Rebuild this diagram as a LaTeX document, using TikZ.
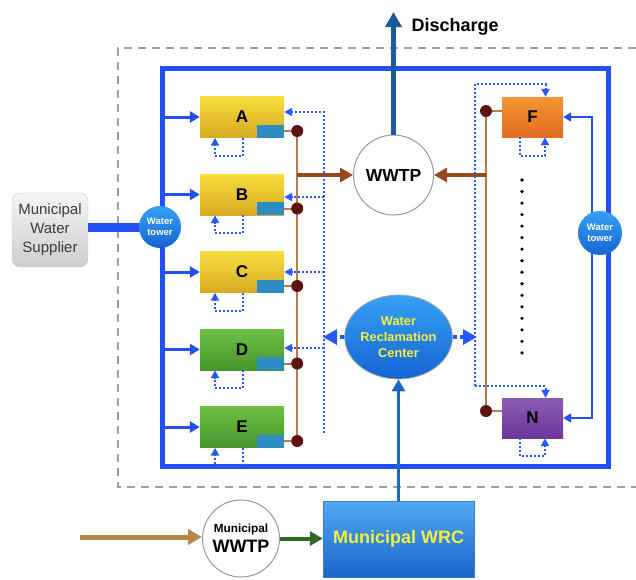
\documentclass[tikz,border=0pt]{standalone}
\usepackage{fontspec}
\setmainfont{Liberation Sans}
\usetikzlibrary{arrows.meta,shapes.geometric,calc}
\definecolor{bblue}{RGB}{35,80,245}
\definecolor{dblue}{RGB}{40,90,250}
\definecolor{tanc}{RGB}{184,124,70}
\definecolor{brownarr}{RGB}{150,72,28}
\definecolor{dotc}{RGB}{95,18,18}
\definecolor{discol}{RGB}{28,90,156}
\definecolor{wrcline}{RGB}{22,105,200}
\definecolor{yel}{RGB}{245,240,60}
\definecolor{sqc}{RGB}{45,140,195}
\definecolor{yt}{RGB}{248,222,60}
\definecolor{yb}{RGB}{215,170,35}
\definecolor{gt}{RGB}{110,190,70}
\definecolor{gb}{RGB}{70,150,45}
\definecolor{ot}{RGB}{242,150,50}
\definecolor{ob}{RGB}{225,108,35}
\definecolor{pt}{RGB}{140,92,180}
\definecolor{pb}{RGB}{108,55,155}
\definecolor{twt}{RGB}{55,160,245}
\definecolor{twb}{RGB}{20,100,210}
\definecolor{suppt}{RGB}{245,245,245}
\definecolor{suppb}{RGB}{205,205,205}
\definecolor{supptext}{RGB}{60,60,60}
\definecolor{tanarr}{RGB}{180,135,75}
\definecolor{grnarr}{RGB}{45,105,30}
\definecolor{wrcdraw}{RGB}{60,125,210}
\definecolor{wrct}{RGB}{82,170,242}
\definecolor{wrcb}{RGB}{25,100,205}
\begin{document}
\begin{tikzpicture}[x=1pt,y=-1pt,
  unitbox/.style={minimum width=84pt,minimum height=41pt,inner sep=0pt,font=\fontsize{17}{20}\selectfont\bfseries},
  ybox/.style={unitbox,top color=yt,bottom color=yb},
  gbox/.style={unitbox,top color=gt,bottom color=gb},
  sqbox/.style={fill=sqc,minimum width=27pt,minimum height=13pt,inner sep=0pt,anchor=south east},
  dotn/.style={circle,fill=dotc,minimum size=12pt,inner sep=0pt},
  feed/.style={bblue,line width=3pt,-{Triangle[length=10pt,width=11pt]}},
  thinfeed/.style={bblue,line width=2.5pt,-{Triangle[length=8pt,width=9pt]}},
  dotarr/.style={dblue,line width=2pt,dash pattern=on 2pt off 2pt,-{Triangle[length=8pt,width=8pt]}},
  bigdot/.style={dblue,line width=4pt,dash pattern=on 4pt off 3pt,-{Triangle[length=14pt,width=15pt]}},
  tanline/.style={tanc,line width=2pt},
  brarr/.style={brownarr,line width=4pt,-{Triangle[length=13pt,width=14pt]}},
  tower/.style={circle,minimum size=42pt,inner sep=0pt,top color=twt,bottom color=twb,text=white,font=\fontsize{9.5}{11}\selectfont\bfseries,align=center},
  plant/.style={circle,draw=gray!80,line width=1pt,fill=white,inner sep=0pt,align=center}
]
\useasboundingbox (0,0) rectangle (636,579);
% frames
\draw[gray!75,line width=1.5pt,dash pattern=on 8pt off 6pt] (636,48) -- (118,48) -- (118,487) -- (636,487);
\draw[bblue,line width=5pt] (162,68) rectangle (608,466);

% supplier
\node[draw=suppb,rounded corners=8pt,top color=suppt,bottom color=suppb,minimum width=76pt,minimum height=74pt,inner sep=0pt,align=center,text=supptext,font=\fontsize{15}{19}\selectfont] (supp) at (50,230) {Municipal\\Water\\Supplier};
\coordinate (twLc) at (160,227);
\coordinate (twRc) at (600,233);
\draw[bblue,line width=9pt] (supp.east |- twLc) -- (twLc);

% units A-E
\node[ybox] (A) at (242,117) {A};
\node[ybox] (B) at (242,194.5) {B};
\node[ybox] (C) at (242,272) {C};
\node[gbox] (D) at (242,349.5) {D};
\node[gbox] (E) at (242,427) {E};
\foreach \u in {A,B,C,D,E}{
  \node[sqbox] (sq\u) at (\u.south east) {};
  \coordinate (c\u) at ($(sq\u.east)+(13,0)$);
}
\coordinate (ol) at (162,0);
\foreach \u in {A,B,C,D,E}{
  \draw[feed] (\u.west -| ol) -- (\u.west);
  \draw[dotarr] ($(\u.south)+(1,0)$) -- ++(0,18) -- ++(-28,0) -- ++(0,-18);
  \draw[tanline] (sq\u.east) -- (c\u);
}
\draw[tanline] (cA) -- (cE);
\foreach \u in {A,B,C,D,E}{\node[dotn] (d\u) at (c\u) {};}

% WWTP
\node[plant,minimum size=80pt,font=\fontsize{17.5}{20}\selectfont\bfseries] (wwtp) at (393.5,175) {WWTP};
\coordinate (jL) at (297,175);
\coordinate (jR) at (486,175);
\draw[brarr] (jL) -- (wwtp.west);
\coordinate (dis) at (393.5,12);
\draw[discol,line width=5pt,-{Triangle[length=15pt,width=16pt]}] (wwtp.north) -- (dis);
\node[anchor=west,font=\fontsize{18}{20}\selectfont\bfseries] (distext) at (408,27) {Discharge};

% left dotted recycle line
\coordinate (dtop) at (324,112);
\coordinate (dbot) at (324,433);
\coordinate (dB) at (324,197);
\coordinate (dC) at (324,272);
\coordinate (dD) at (324,348);
\draw[dotarr] (dbot) -- (dtop) -- (A.east |- dtop);
\draw[dotarr] (dB) -- (B.east |- dB);
\draw[dotarr] (dC) -- (C.east |- dC);
\draw[dotarr] (dD) -- (D.east |- dD);

% right units
\node[unitbox,minimum width=61pt,minimum height=40pt,top color=ot,bottom color=ob] (F) at (532.5,117) {F};
\node[unitbox,minimum width=61pt,minimum height=40pt,top color=pt,bottom color=pb] (N) at (532.5,418) {N};
\coordinate (cF) at (486,111);
\coordinate (cN) at (486,411);
\draw[tanline] (cF) -- (F.west |- cF);
\draw[tanline] (cN) -- (N.west |- cN);
\draw[tanline] (cF) -- (cN);
\node[dotn] (dF) at (cF) {};
\node[dotn] (dN) at (cN) {};
\draw[brarr] (jR) -- (wwtp.east);

\coordinate (rtop) at (475,84);
\coordinate (rbot) at (475,386);
\coordinate (fin) at ($(F.north)+(13,0)$);
\coordinate (nin) at ($(N.north)+(13,0)$);
\draw[dotarr] (rbot) -- (rtop) -- (rtop -| fin) -- (fin);
\draw[dotarr] (rbot) -- (rbot -| nin) -- (nin);
\draw[dotarr] ($(F.south)+(-12.5,0)$) -- ++(0,19) -- ++(25,0) -- ++(0,-19);
\draw[dotarr] ($(N.south)+(-12.5,0)$) -- ++(0,18) -- ++(25,0) -- ++(0,-18);

% ellipsis dots
\foreach \i in {0,...,15}{\fill (522,180+11.53*\i) circle (1.8pt);}

% right tower feeds
\coordinate (rt0) at (592,233);
\draw[thinfeed] (rt0) -- (rt0 |- F.east) -- (F.east);
\draw[thinfeed] (rt0) -- (rt0 |- N.east) -- (N.east);

% towers
\node[tower] (twL) at (twLc) {Water\\tower};
\node[tower,minimum size=44pt] (twR) at (twRc) {Water\\tower};

% water reclamation center
\node[ellipse,minimum width=95pt,minimum height=84pt,inner sep=0pt,draw=gray!70,line width=0.8pt,top color=twt,bottom color=twb,text=yel,align=center,font=\fontsize{12.8}{16}\selectfont\bfseries] (wrc) at (398.5,337) {Water\\Reclamation\\Center};
\coordinate (jD) at (323,337);
\coordinate (jE) at (477,337);
\draw[bigdot] (wrc.west) -- (jD);
\draw[bigdot] (wrc.east) -- (jE);

% bottom
\node[minimum width=151pt,minimum height=76pt,inner sep=0pt,draw=wrcdraw,top color=wrct,bottom color=wrcb,text=yel,font=\fontsize{18}{20}\selectfont\bfseries] (mwrc) at (398.5,539) {Municipal WRC};
\draw[wrcline,line width=3.5pt,-{Triangle[length=12pt,width=13pt]}] (mwrc.north) -- (wrc.south);
\node[plant,minimum size=77pt,font=\fontsize{18}{20}\selectfont\bfseries] (mwwtp) at (241,538.5) {{\fontsize{11.8}{13}\selectfont Municipal}\\WWTP};
\coordinate (inflow) at (80,537);
\draw[tanarr,line width=5pt,-{Triangle[length=14pt,width=15pt]}] (inflow) -- (mwwtp.west |- inflow);
\draw[grnarr,line width=4pt,-{Triangle[length=13pt,width=14pt]}] (mwwtp.east) -- (mwrc.west |- mwwtp.east);
\end{tikzpicture}
\end{document}
